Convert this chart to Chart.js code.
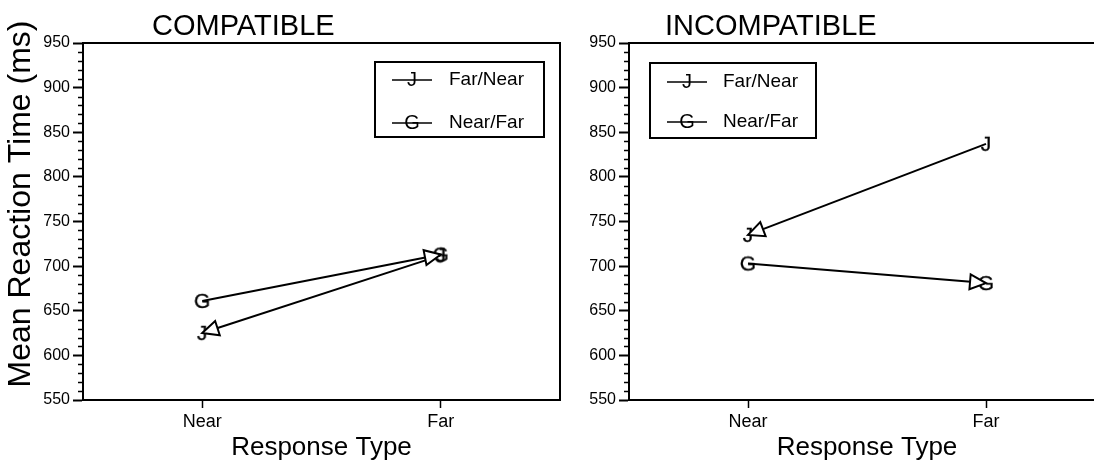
<!DOCTYPE html>
<html>
<head>
<meta charset="utf-8">
<script src="https://cdn.jsdelivr.net/npm/chart.js@4"></script>
<style>
  html, body { margin: 0; padding: 0; background: #fff; overflow: hidden; width: 1094px; height: 463px; }
  canvas { position: absolute; top: 0; }
  #compatible { left: 0; }
  #incompatible { left: 560px; }
</style>
</head>
<body>
<canvas id="compatible" width="575" height="463"></canvas>
<canvas id="incompatible" width="560" height="463"></canvas>
<script>
// Response-type categories and the two order conditions
const responseTypes = ['Near', 'Far'];
const seriesNames = ['Far/Near', 'Near/Far'];
const seriesMarkers = ['J', 'G'];

// Mean reaction times (ms)
const compatibleFarNear = [625, 712];
const compatibleNearFar = [661, 713];
const incompatibleFarNear = [735, 837];
const incompatibleNearFar = [703, 681];

// Y axis range and tick spacing
const yMin = 550;
const yMax = 950;
const yMajorStep = 50;
const yMinorStep = 10;

const panelTitles = ['COMPATIBLE', 'INCOMPATIBLE'];
const xAxisTitle = 'Response Type';
const yAxisTitle = 'Mean Reaction Time (ms)';

const FONT = '"Liberation Sans", Arial, Helvetica, sans-serif';
Chart.defaults.font.family = FONT;
Chart.defaults.color = '#000';

// Letter glyph used as a point marker
function glyphMarker(ch) {
  const c = document.createElement('canvas');
  c.width = 28; c.height = 28;
  const g = c.getContext('2d');
  g.font = '21px ' + FONT;
  g.textAlign = 'center';
  g.textBaseline = 'middle';
  g.fillStyle = '#000';
  g.strokeStyle = '#000';
  g.lineWidth = 0.3;
  g.fillText(ch, 14, 15);
  g.strokeText(ch, 14, 15);
  return c;
}
const markerImages = seriesMarkers.map(glyphMarker);

// Frame round the plot area
const framePlugin = {
  id: 'frame',
  afterDraw(chart) {
    const { ctx, chartArea: a } = chart;
    ctx.save();
    ctx.strokeStyle = '#000';
    ctx.lineWidth = 2;
    ctx.strokeRect(a.left, a.top, a.right - a.left, a.bottom - a.top);
    ctx.restore();
  }
};

// Short minor ticks on the value axis
const minorTickPlugin = {
  id: 'minorTicks',
  afterDraw(chart) {
    const { ctx, chartArea: a } = chart;
    const y = chart.scales.y;
    ctx.save();
    ctx.strokeStyle = '#000';
    ctx.lineWidth = 1.5;
    for (let v = yMin; v <= yMax; v += yMinorStep) {
      if (v % yMajorStep === 0) continue;
      const py = Math.round(y.getPixelForValue(v)) + 0.5;
      ctx.beginPath();
      ctx.moveTo(a.left - 5, py);
      ctx.lineTo(a.left, py);
      ctx.stroke();
    }
    ctx.restore();
  }
};

// Open arrowhead at the end of each condition's line
const arrowPlugin = {
  id: 'arrows',
  afterDatasetsDraw(chart) {
    const { ctx } = chart;
    chart.data.datasets.forEach((ds, i) => {
      const meta = chart.getDatasetMeta(i);
      const tip = meta.data[ds.arrowTip];
      const tail = meta.data[1 - ds.arrowTip];
      const ang = Math.atan2(tip.y - tail.y, tip.x - tail.x);
      const L = 16, W = 7.5;
      const bx = tip.x - L * Math.cos(ang), by = tip.y - L * Math.sin(ang);
      const nx = -Math.sin(ang) * W, ny = Math.cos(ang) * W;
      ctx.save();
      ctx.beginPath();
      ctx.moveTo(tip.x, tip.y);
      ctx.lineTo(bx + nx, by + ny);
      ctx.lineTo(bx - nx, by - ny);
      ctx.closePath();
      ctx.fillStyle = '#fff';
      ctx.fill();
      ctx.strokeStyle = '#000';
      ctx.lineWidth = 2;
      ctx.lineJoin = 'miter';
      ctx.stroke();
      ctx.restore();
    });
  }
};

// Boxed legend inside the plot area
const boxLegendPlugin = {
  id: 'boxLegend',
  afterDraw(chart, args, opts) {
    const { ctx, chartArea: a } = chart;
    const x = a.left + opts.x, y = a.top + opts.y;
    ctx.save();
    ctx.fillStyle = '#fff';
    ctx.fillRect(x, y, opts.w, opts.h);
    ctx.strokeStyle = '#000';
    ctx.lineWidth = 2;
    ctx.strokeRect(x, y, opts.w, opts.h);
    chart.data.datasets.forEach((ds, i) => {
      const ry = y + opts.rows[i];
      ctx.lineWidth = 1.5;
      ctx.beginPath();
      ctx.moveTo(x + 17, ry);
      ctx.lineTo(x + 57, ry);
      ctx.stroke();
      ctx.fillStyle = '#000';
      ctx.font = '20px ' + FONT;
      ctx.textAlign = 'center';
      ctx.textBaseline = 'middle';
      ctx.fillText(seriesMarkers[i], x + 37, ry);
      ctx.font = '19px ' + FONT;
      ctx.textAlign = 'left';
      ctx.fillText(ds.label, x + opts.textX, ry);
    });
    ctx.restore();
  }
};

// Panel title and (optionally) the rotated value-axis title
const labelsPlugin = {
  id: 'panelLabels',
  afterDraw(chart, args, opts) {
    const { ctx } = chart;
    ctx.save();
    ctx.fillStyle = '#000';
    ctx.font = '29px ' + FONT;
    ctx.textAlign = 'left';
    ctx.textBaseline = 'alphabetic';
    ctx.fillText(opts.title, opts.titleX, 35);
    if (opts.yTitle) {
      ctx.translate(21, 204);
      ctx.rotate(-Math.PI / 2);
      ctx.font = '32px ' + FONT;
      ctx.textAlign = 'center';
      ctx.textBaseline = 'middle';
      ctx.fillText(opts.yTitle, 0, 0);
    }
    ctx.restore();
  }
};

function makePanel(canvasId, farNear, nearFar, yAxisWidth, title, titleX, yTitle, legendBox) {
  return new Chart(document.getElementById(canvasId), {
    type: 'line',
    data: {
      labels: responseTypes,
      datasets: [
        { label: seriesNames[0], data: farNear, arrowTip: 0,
          borderColor: '#000', borderWidth: 2, pointStyle: markerImages[0] },
        { label: seriesNames[1], data: nearFar, arrowTip: 1,
          borderColor: '#000', borderWidth: 2, pointStyle: markerImages[1] }
      ]
    },
    options: {
      responsive: false,
      animation: false,
      devicePixelRatio: 1,
      layout: { padding: { left: 0, right: 15, top: 43, bottom: 0 } },
      elements: { line: { tension: 0 } },
      scales: {
        x: {
          type: 'category',
          offset: true,
          grid: { display: true, drawOnChartArea: false, offset: false,
                  tickLength: 8, tickWidth: 1.5, tickColor: '#000' },
          border: { display: true, color: '#000', width: 2 },
          ticks: { color: '#000', font: { size: 18 }, padding: 3, maxRotation: 0 },
          title: { display: true, text: xAxisTitle, color: '#000',
                   font: { size: 26 }, padding: { top: 0, bottom: 0 } },
          afterFit(s) { s.height = 63; }
        },
        y: {
          min: yMin, max: yMax,
          ticks: { stepSize: yMajorStep, color: '#000', font: { size: 16 }, padding: 3 },
          grid: { display: true, drawOnChartArea: false,
                  tickLength: 10, tickWidth: 2, tickColor: '#000' },
          border: { display: true, color: '#000', width: 2 },
          afterFit(s) { s.width = yAxisWidth; }
        }
      },
      plugins: {
        legend: { display: false },
        tooltip: { enabled: false },
        boxLegend: legendBox,
        panelLabels: { title: title, titleX: titleX, yTitle: yTitle }
      }
    },
    plugins: [framePlugin, minorTickPlugin, arrowPlugin, boxLegendPlugin, labelsPlugin]
  });
}

makePanel('compatible', compatibleFarNear, compatibleNearFar, 83,
  panelTitles[0], 152, yAxisTitle,
  { x: 292, y: 19, w: 169, h: 75, rows: [18, 61], textX: 74 });

makePanel('incompatible', incompatibleFarNear, incompatibleNearFar, 69,
  panelTitles[1], 105, null,
  { x: 21, y: 20, w: 166, h: 75, rows: [19, 59], textX: 73 });
</script>
</body>
</html>
